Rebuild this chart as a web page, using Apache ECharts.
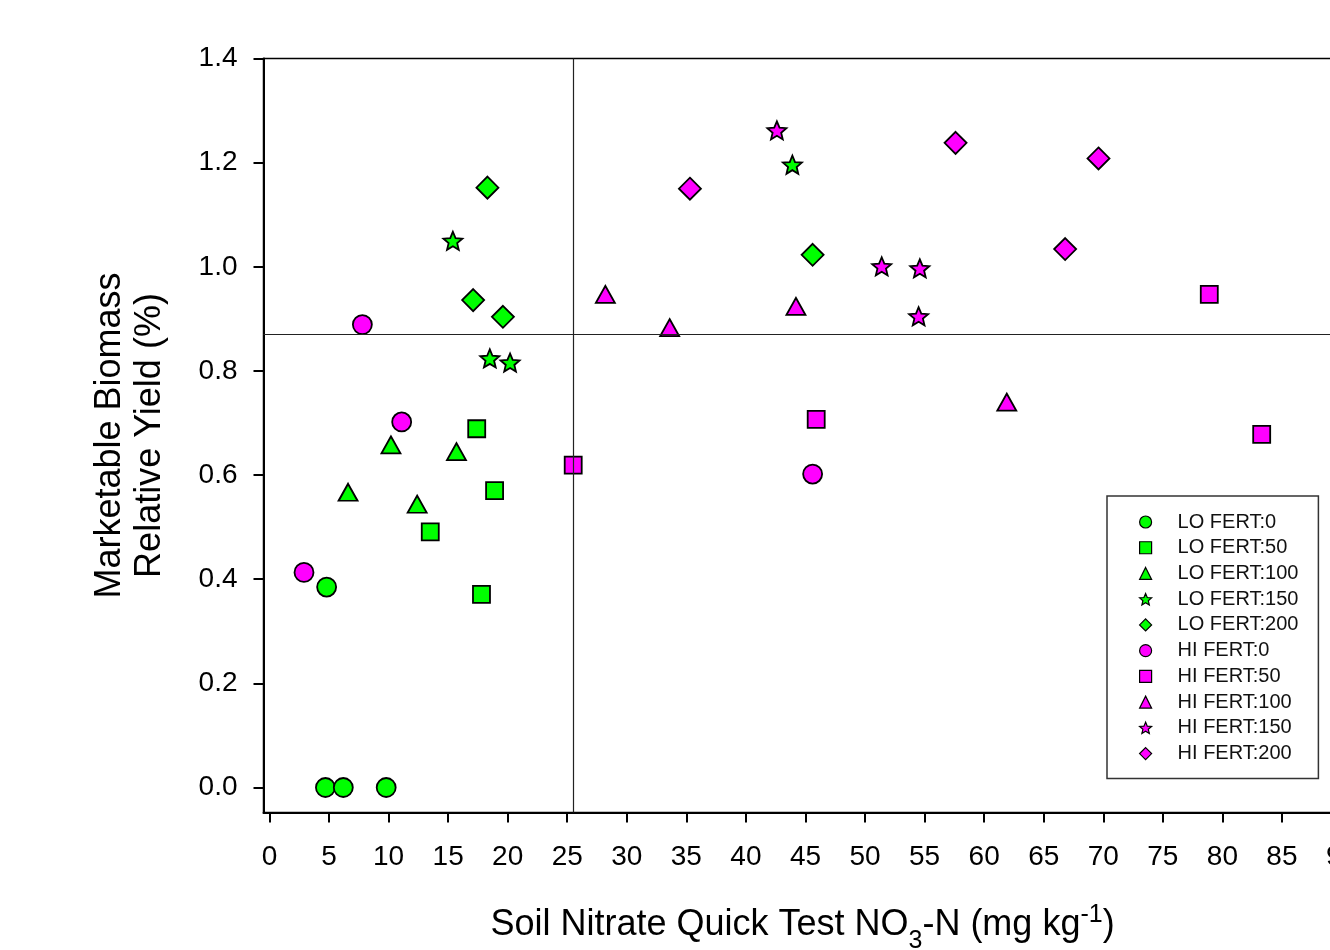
<!DOCTYPE html>
<html>
<head>
<meta charset="utf-8">
<title>Marketable Biomass Relative Yield</title>
<script src="https://cdn.jsdelivr.net/npm/echarts@6/dist/echarts.min.js"></script>
<style>
html, body { margin: 0; padding: 0; background: #fff; }
#chart { width: 1330px; height: 950px; }
</style>
</head>
<body>
<div id="chart"></div>
<script>
// values: [soil nitrate (mg/kg), relative yield]
var loFert0   = [[4.7, 0], [6.2, 0], [9.8, 0], [4.8, 0.385]];
var loFert50  = [[17.4, 0.689], [18.9, 0.570], [13.5, 0.491], [17.8, 0.371]];
var loFert100 = [[10.2, 0.658], [15.7, 0.645], [6.6, 0.567], [12.4, 0.544]];
var loFert150 = [[15.4, 1.050], [18.5, 0.824], [20.2, 0.816], [43.9, 1.196]];
var loFert200 = [[18.3, 1.152], [17.1, 0.936], [19.6, 0.904], [45.6, 1.023]];
var hiFert0   = [[2.9, 0.413], [7.8, 0.889], [11.1, 0.702], [45.6, 0.602]];
var hiFert50  = [[25.5, 0.619], [45.9, 0.707], [78.9, 0.947], [83.3, 0.678]];
var hiFert100 = [[28.2, 0.947], [33.6, 0.883], [44.2, 0.924], [61.9, 0.740]];
var hiFert150 = [[42.6, 1.262], [51.4, 1.001], [54.6, 0.997], [54.5, 0.905]];
var hiFert200 = [[35.3, 1.150], [57.6, 1.238], [69.6, 1.208], [66.8, 1.034]];

var xTicks = [0, 5, 10, 15, 20, 25, 30, 35, 40, 45, 50, 55, 60, 65, 70, 75, 80, 85, 90];
var yTicks = [0, 0.2, 0.4, 0.6, 0.8, 1.0, 1.2, 1.4];

// threshold lines
var critNitrate = 25.5;
var critYield = 0.87;

var GREEN = '#00ff00';
var MAGENTA = '#ff00ff';
var FONT = 'Liberation Sans, Arial, sans-serif';

// 5 point star symbol
function starPath() {
    var pts = [];
    for (var i = 0; i < 10; i++) {
        var r = i % 2 === 0 ? 1 : 0.45;
        var a = Math.PI / 2 + i * Math.PI / 5;
        pts.push((r * Math.cos(a)).toFixed(3) + ',' + (-r * Math.sin(a)).toFixed(3));
    }
    return 'path://M' + pts.join('L') + 'Z';
}
var STAR = starPath();

function pts(name, data, symbol, size, color) {
    return {
        name: name,
        type: 'scatter',
        data: data,
        symbol: symbol,
        symbolSize: size,
        symbolKeepAspect: true,
        itemStyle: { color: color, borderColor: '#000', borderWidth: 1.8, opacity: 1 },
        emphasis: { disabled: true }
    };
}

var myChart = echarts.init(document.getElementById('chart'));

var option = {
    animation: false,
    backgroundColor: '#fff',
    textStyle: { fontFamily: FONT },
    grid: {
        left: 263.5,
        top: 58.5,
        right: -11.5,
        bottom: 137.5,
        show: true,
        borderColor: '#000',
        borderWidth: 1.5,
        outerBoundsMode: 'none'
    },
    legend: {
        orient: 'vertical',
        left: 1107,
        top: 496,
        padding: [16, 20, 15, 32],
        itemWidth: 12,
        itemHeight: 12,
        itemGap: 5.73,
        borderColor: '#333',
        borderWidth: 1.5,
        backgroundColor: '#fff',
        itemStyle: { borderWidth: 1.2 },
        textStyle: { fontSize: 20, color: '#111', lineHeight: 20, padding: [0, 0, 0, 21], fontFamily: FONT },
        data: ['LO FERT:0', 'LO FERT:50', 'LO FERT:100', 'LO FERT:150', 'LO FERT:200',
               'HI FERT:0', 'HI FERT:50', 'HI FERT:100', 'HI FERT:150', 'HI FERT:200']
    },
    xAxis: {
        type: 'value',
        min: -0.5,
        max: 90,
        splitLine: { show: false },
        axisLine: { onZero: false, lineStyle: { color: '#000', width: 2 } },
        axisTick: { customValues: xTicks, length: 10, lineStyle: { color: '#000', width: 2 } },
        axisLabel: { customValues: xTicks, margin: 31, fontSize: 28, color: '#000', fontFamily: FONT },
        name: '{a|Soil Nitrate Quick Test NO}{sub|3}{a|-N (mg kg}{sup|-1}{a|)}',
        nameLocation: 'middle',
        nameGap: 92,
        nameTextStyle: {
            color: '#000',
            lineHeight: 42,
            rich: {
                a: { fontSize: 36, color: '#000', fontFamily: FONT },
                sub: { fontSize: 25, color: '#000', fontFamily: FONT, verticalAlign: 'bottom', height: 10 },
                sup: { fontSize: 25, color: '#000', fontFamily: FONT, verticalAlign: 'top', height: 21 }
            }
        }
    },
    yAxis: {
        type: 'value',
        min: -0.048,
        max: 1.4,
        splitLine: { show: false },
        axisLine: { onZero: false, lineStyle: { color: '#000', width: 2 } },
        axisTick: { customValues: yTicks, length: 10, lineStyle: { color: '#000', width: 2 } },
        axisLabel: {
            customValues: yTicks, margin: 26, fontSize: 28, color: '#000', fontFamily: FONT,
            formatter: function (v) { return v.toFixed(1); }
        },
        name: 'Marketable Biomass\nRelative Yield (%)',
        nameLocation: 'middle',
        nameGap: 93,
        nameTextStyle: { fontSize: 36, lineHeight: 40, color: '#000', fontFamily: FONT }
    },
    series: [
        pts('LO FERT:0', loFert0, 'circle', 19, GREEN),
        pts('LO FERT:50', loFert50, 'rect', 17, GREEN),
        pts('LO FERT:100', loFert100, 'triangle', [19, 17], GREEN),
        pts('LO FERT:150', loFert150, STAR, 19, GREEN),
        pts('LO FERT:200', loFert200, 'diamond', 22, GREEN),
        pts('HI FERT:0', hiFert0, 'circle', 19, MAGENTA),
        pts('HI FERT:50', hiFert50, 'rect', 17, MAGENTA),
        pts('HI FERT:100', hiFert100, 'triangle', [19, 17], MAGENTA),
        pts('HI FERT:150', hiFert150, STAR, 19, MAGENTA),
        pts('HI FERT:200', hiFert200, 'diamond', 22, MAGENTA),
        {
            name: 'ref',
            type: 'scatter',
            data: [],
            silent: true,
            z: 1,
            markLine: {
                silent: true,
                symbol: 'none',
                label: { show: false },
                lineStyle: { color: '#222', width: 1.2, type: 'solid' },
                data: [{ xAxis: critNitrate }, { yAxis: critYield }]
            }
        }
    ]
};

myChart.setOption(option);
</script>
</body>
</html>
